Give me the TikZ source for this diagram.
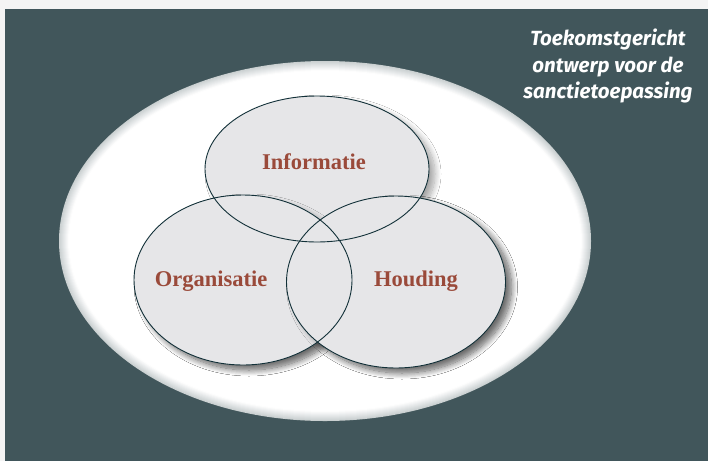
\documentclass[tikz,border=0pt]{standalone}
\usepackage{fontspec}
\setmainfont{Liberation Serif}
\newfontfamily\titlefont{Fira Sans}
\usetikzlibrary{shadows.blur, shapes.geometric}
\definecolor{slate}{HTML}{41565B}
\definecolor{paper}{HTML}{F4F4F4}
\definecolor{petal}{HTML}{E6E6E8}
\definecolor{rim}{HTML}{123038}
\definecolor{rust}{HTML}{9A4A3A}

\begin{document}
\begin{tikzpicture}[x=1pt, y=-1pt]
            % Define styles
            \tikzstyle{petal} = [ellipse, fill=petal, inner sep=0pt, blur shadow={shadow xshift=6pt, shadow yshift=-5pt, shadow blur radius=6pt, shadow blur steps=12, shadow opacity=35}]
            \tikzstyle{rimline} = [draw=rim, line width=0.9pt]
            \tikzstyle{word} = [text=rust, font=\bfseries\fontsize{22.5}{26}\selectfont]
            
            % Frame and background
            \fill[paper] (0,0) rectangle (708,461);
            \useasboundingbox (0,0) rectangle (708,461);
            \fill[slate] (5,9) rectangle (708,461);
            
            % Big white ellipse, soft grey rim inside
            \foreach \i in {0,...,9}
                \fill[white!\the\numexpr 72+\i*3\relax!slate] (325,241) ellipse [x radius=266-\i, y radius=180-\i];
            \fill[white] (325,241) ellipse [x radius=256, y radius=170];
            
            % Title
            \node[text=white, align=center, font=\titlefont\bfseries\itshape\fontsize{20.5}{26.5}\selectfont] (title) at (608,66) {Toekomstgericht\\ontwerp voor de\\sanctietoepassing};
            
            % Three areas (with shadows)
            \node[petal, minimum width=218pt, minimum height=170pt] (org) at (243,280) {};
            \node[petal, minimum width=219pt, minimum height=172pt] (houd) at (396,282) {};
            \node[petal, minimum width=224pt, minimum height=146pt] (info) at (317,169) {};
            
            % Cover shadows inside the overlaps
            \fill[petal] (org.center) ellipse [x radius=109, y radius=85];
            \fill[petal] (houd.center) ellipse [x radius=109.5, y radius=86];
            
            % Outlines
            \draw[rimline] (org.center) ellipse [x radius=109, y radius=85];
            \draw[rimline] (houd.center) ellipse [x radius=109.5, y radius=86];
            \draw[rimline] (info.center) ellipse [x radius=112, y radius=73];
            
            % Labels
            \node[word] (infolabel) at (314,162) {Informatie};
            \node[word] (orglabel) at (211,281) {Organisatie};
            \node[word] (houdlabel) at (416,281) {Houding};
\end{tikzpicture}
\end{document}
